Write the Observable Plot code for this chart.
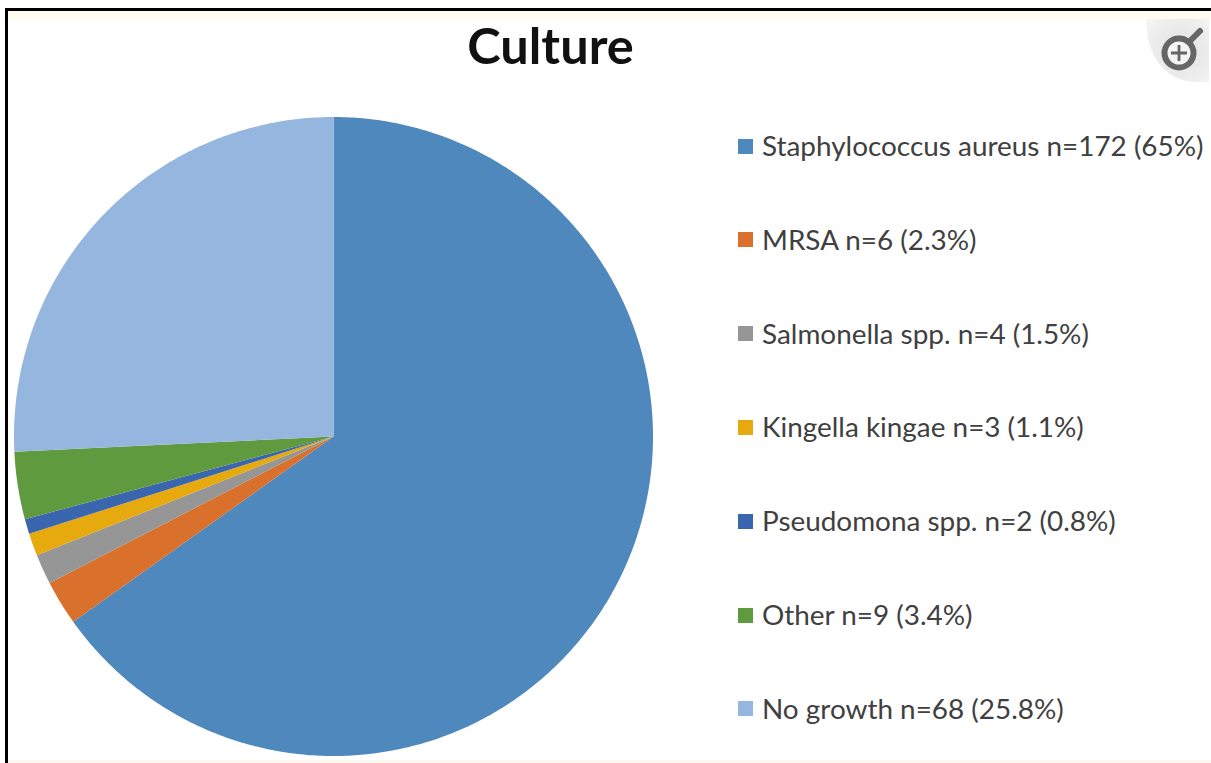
<!DOCTYPE html>
<html>
<head>
<meta charset="utf-8">
<script src="https://cdn.jsdelivr.net/npm/d3@7"></script>
<script src="https://cdn.jsdelivr.net/npm/@observablehq/plot@0.6"></script>
<style>
html,body{margin:0;padding:0;background:#fff;}
#page{position:relative;width:1211px;height:763px;overflow:hidden;background:#fff;font-family:Lato,sans-serif;}
#page svg.plot{position:absolute;left:0;top:0;}
#edgeL{position:absolute;left:5px;top:8px;width:3px;height:755px;background:#000;}
#edgeT{position:absolute;left:5px;top:8px;width:1206px;height:3px;background:#000;}
#creamT{position:absolute;left:8px;top:11px;width:1203px;height:8px;background:#fffcef;}
#creamB{position:absolute;left:8px;top:760px;width:1203px;height:3px;background:#fdf8ee;}
#title{position:absolute;left:0;width:1101px;top:15px;text-align:center;font-weight:700;font-size:50.5px;line-height:60px;color:#111;}
.row{position:absolute;left:738px;display:flex;align-items:center;height:30px;white-space:nowrap;font-size:27.9px;color:#404040;}
.sw{width:15px;height:15px;margin-right:9px;flex:none;}
.row span:last-child{position:relative;top:-1px;}
#icon{position:absolute;left:1146px;top:19px;}
</style>
</head>
<body>
<div id="page"></div>
<script>
const categories = ["Staphylococcus aureus", "MRSA", "Salmonella spp.", "Kingella kingae", "Pseudomona spp.", "Other", "No growth"];
const counts = [172, 6, 4, 3, 2, 9, 68];
const percentLabels = ["65%", "2.3%", "1.5%", "1.1%", "0.8%", "3.4%", "25.8%"];
const colors = ["#4f88bc", "#d9702c", "#969696", "#e6a90e", "#3a66b0", "#5f9a3e", "#95b6de"];
const titleText = "Culture";

const W = 1211, H = 763, cx = 333, cy = 436, R = 319.5;

const pie = d3.pie().sort(null).value(d => d.n)(categories.map((name, i) => ({name, n: counts[i]})));
const outline = pie.flatMap(s => {
  const steps = Math.max(2, Math.ceil((s.endAngle - s.startAngle) / 0.01));
  const pts = [{name: s.data.name, a: 0, b: 0}];
  for (let k = 0; k <= steps; k++) {
    const t = s.startAngle + (s.endAngle - s.startAngle) * k / steps;
    pts.push({name: s.data.name, a: Math.sin(t), b: Math.cos(t)});
  }
  pts.push({name: s.data.name, a: 0, b: 0});
  return pts;
});

const chart = Plot.plot({
  width: W, height: H,
  marginTop: 0, marginRight: 0, marginBottom: 0, marginLeft: 0,
  style: {background: "transparent"},
  x: {axis: null, domain: [-cx / R, (W - cx) / R], range: [0, W]},
  y: {axis: null, domain: [-(H - cy) / R, cy / R], range: [H, 0]},
  color: {domain: categories, range: colors},
  marks: [
    Plot.line(outline, {x: "a", y: "b", z: "name", fill: "name", stroke: "none", curve: "linear"})
  ]
});

const page = document.getElementById("page");
page.append(chart);
for (const id of ["creamT", "creamB", "edgeL", "edgeT"]) {
  const d = document.createElement("div"); d.id = id; page.append(d);
}
const t = document.createElement("div"); t.id = "title"; t.textContent = titleText; page.append(t);

categories.forEach((name, i) => {
  const row = document.createElement("div");
  row.className = "row";
  row.style.top = (131 + i * 93.8) + "px";
  const sw = document.createElement("span");
  sw.className = "sw"; sw.style.background = colors[i];
  const label = document.createElement("span");
  label.textContent = `${name} n=${counts[i]} (${percentLabels[i]})`;
  row.append(sw, label);
  page.append(row);
});

const icon = document.createElement("div");
icon.id = "icon";
icon.innerHTML = `<svg width="65" height="65" viewBox="0 0 65 65">
<defs><radialGradient id="fade" cx="0.55" cy="0.5" r="0.75"><stop offset="0.3" stop-color="#e6e6e6"/><stop offset="1" stop-color="#f6f6f6"/></radialGradient></defs>
<path d="M0 0H63V63H50C22 63 0 40 0 0Z" fill="url(#fade)"/>
<circle cx="33" cy="34" r="14.5" fill="#f4f4f4" stroke="#666" stroke-width="6"/>
<path d="M43 23L54 12" stroke="#666" stroke-width="6" stroke-linecap="round"/>
<path d="M25 34H41M33 26V42" stroke="#666" stroke-width="2.8"/>
</svg>`;
page.append(icon);
</script>
</body>
</html>
